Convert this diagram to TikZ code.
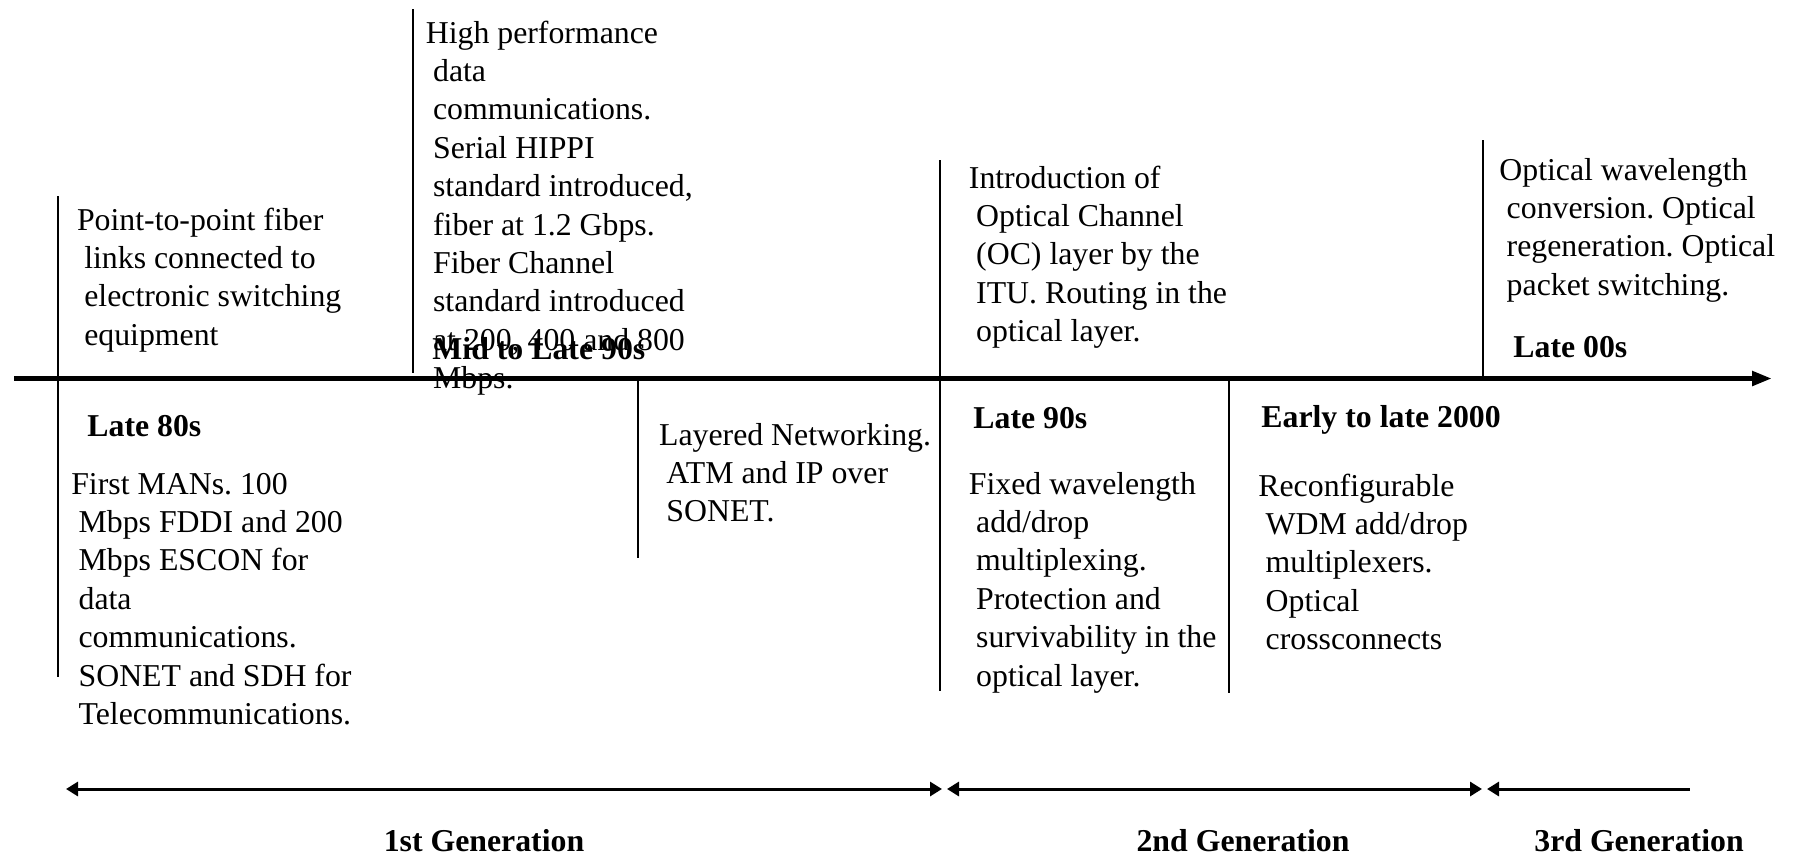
\documentclass[tikz,border=0pt]{standalone}
\usepackage{fontspec}
\setmainfont{Liberation Serif}
\usetikzlibrary{arrows.meta}
\newcommand\ind{\hspace*{0.23em}}
\frenchspacing
\begin{document}
\begin{tikzpicture}[x=0.5pt,y=-0.5pt,
  % multi-line blocks are anchored on the baseline of their last line
  txt/.style={anchor=base west, inner sep=0pt, align=left,
    font=\fontsize{15.9}{19.2}\selectfont},
  era/.style={anchor=base west, inner sep=0pt,
    font=\fontsize{15.9}{19.2}\selectfont\bfseries},
  gen/.style={anchor=base, inner sep=0pt,
    font=\fontsize{15.9}{19.2}\selectfont\bfseries},
  timeaxis/.style={line width=2.5pt, -{Triangle[length=10pt,width=7pt]}},
  tick/.style={line width=1.2pt},
  tipL/.style={{Triangle[length=6pt,width=7pt]}-},
  tipLR/.style={{Triangle[length=6pt,width=7pt]}-{Triangle[length=6pt,width=7pt]}},
  genspan/.style={line width=1.5pt}
]
\useasboundingbox (0,0) rectangle (1793,853);

% time axis
\coordinate (ax0) at (14,378.5);
\coordinate (ax1) at (1772,378.5);
\draw[timeaxis] (ax0) -- (ax1);

% era dividers
\coordinate (t1a) at (58,196);   \coordinate (t1b) at (58,677);
\coordinate (t2a) at (413,9);    \coordinate (t2b) at (413,373);
\coordinate (t3a) at (638,381);  \coordinate (t3b) at (638,558);
\coordinate (t4a) at (940,160);  \coordinate (t4b) at (940,691);
\coordinate (t5a) at (1229,381); \coordinate (t5b) at (1229,693);
\coordinate (t6a) at (1483,140); \coordinate (t6b) at (1483,378);
\foreach \i in {1,...,6} \draw[tick] (t\i a) -- (t\i b);

% descriptions above the axis
\node[txt] (a) at (76.6,345.2) {Point-to-point fiber\\\ind links connected to\\\ind electronic switching\\\ind equipment};
\node[txt] (b) at (425.4,388.6) {High performance\\\ind data\\\ind communications.\\\ind Serial HIPPI\\\ind standard introduced,\\\ind fiber at 1.2 Gbps.\\\ind Fiber Channel\\\ind standard introduced\\\ind at 200, 400 and 800\\\ind Mbps.};
\node[txt] (e) at (968.5,341.6) {Introduction of\\\ind Optical Channel\\\ind (OC) layer by the\\\ind ITU. Routing in the\\\ind optical layer.};
\node[txt] (h) at (1499,295.2) {Optical wavelength\\\ind conversion. Optical\\\ind regeneration. Optical\\\ind packet switching.};

% descriptions below the axis
\node[txt] (c) at (70.9,724.4) {First MANs. 100\\\ind Mbps FDDI and 200\\\ind Mbps ESCON for\\\ind data\\\ind communications.\\\ind SONET and SDH for\\\ind Telecommunications.};
\node[txt] (d) at (658.7,521.8) {Layered Networking.\\\ind ATM and IP over\\\ind SONET.};
\node[txt] (f) at (968.5,686) {Fixed wavelength\\\ind add/drop\\\ind multiplexing.\\\ind Protection and\\\ind survivability in the\\\ind optical layer.};
\node[txt] (g) at (1258,649.6) {Reconfigurable\\\ind WDM add/drop\\\ind multiplexers.\\\ind Optical\\\ind crossconnects};

% era labels
\node[era] (e1) at (87,436) {Late 80s};
\node[era] (e2) at (432,359) {Mid to Late 90s};
\node[era] (e3) at (973,428) {Late 90s};
\node[era] (e4) at (1261,427) {Early to late 2000};
\node[era] (e5) at (1513,357) {Late 00s};

% generation spans
\coordinate (g0) at (66,789);
\coordinate (g1l) at (942,789);  \coordinate (g1r) at (947,789);
\coordinate (g2l) at (1482,789); \coordinate (g2r) at (1487,789);
\coordinate (g3) at (1690,789);
\draw[genspan,tipLR] (g0) -- (g1l);
\draw[genspan,tipLR] (g1r) -- (g2l);
\draw[genspan,tipL] (g2r) -- (g3);

\node[gen] (n1) at (484,851) {1st Generation};
\node[gen] (n2) at (1243,851) {2nd Generation};
\node[gen] (n3) at (1639,851) {3rd Generation};
\end{tikzpicture}
\end{document}
